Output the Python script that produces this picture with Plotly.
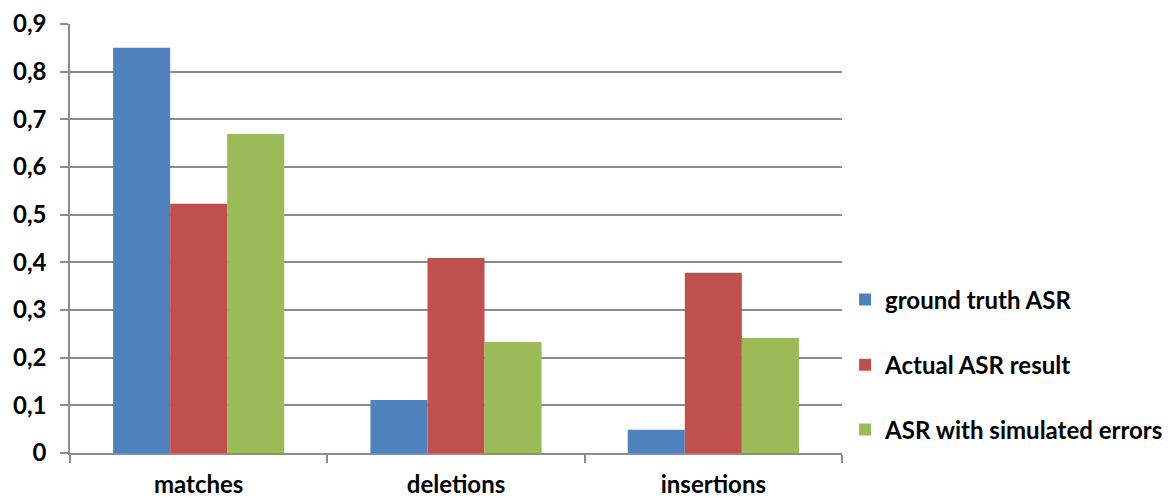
import plotly.graph_objects as go

categories = ["matches", "deletions", "insertions"]
series_names = ["ground truth ASR", "Actual ASR result", "ASR with simulated errors"]
ground_truth = [0.85, 0.111, 0.049]
actual_asr = [0.523, 0.409, 0.378]
simulated = [0.669, 0.233, 0.241]
colors = ["#4F81BD", "#C0504D", "#9BBB59"]
y_ticks = [0, 0.1, 0.2, 0.3, 0.4, 0.5, 0.6, 0.7, 0.8, 0.9]
y_tick_labels = ["0", "0,1", "0,2", "0,3", "0,4", "0,5", "0,6", "0,7", "0,8", "0,9"]

FONT = "Lato"
SIZE = 24
fig = go.Figure()
legend_ids = ["legend", "legend2", "legend3"]
for name, vals, col, lg in zip(series_names, [ground_truth, actual_asr, simulated], colors, legend_ids):
    fig.add_trace(go.Bar(x=categories, y=vals, name=name, marker_color=col,
                         marker_line_width=0, legend=lg))

legend_y = [0.357, 0.205, 0.054]
legend_common = dict(x=1.004, xanchor="left", yanchor="middle",
                     font=dict(family=FONT, size=SIZE, color="black", weight="bold"),
                     bgcolor="rgba(0,0,0,0)")
fig.update_layout(
    width=1175, height=497,
    margin=dict(l=70, r=333, t=24, b=44, autoexpand=False),
    paper_bgcolor="white", plot_bgcolor="white",
    barmode="group", bargap=0.335, bargroupgap=0,
    showlegend=True,
    legend=dict(y=legend_y[0], **legend_common),
    legend2=dict(y=legend_y[1], **legend_common),
    legend3=dict(y=legend_y[2], **legend_common),
    font=dict(family=FONT, size=SIZE, color="black", weight="bold"),
)
fig.update_yaxes(range=[0, 0.9], tickvals=y_ticks, ticktext=y_tick_labels,
                 showgrid=True, gridcolor="#8C8C8C", gridwidth=1.5,
                 showline=True, linecolor="#8C8C8C", linewidth=1.5,
                 ticks="outside", ticklen=8, tickcolor="#8C8C8C", tickwidth=1.5,
                 ticklabelstandoff=9, zeroline=False, automargin=False,
                 tickfont=dict(family=FONT, size=SIZE, color="black", weight="bold"))
fig.update_xaxes(showline=True, linecolor="#8C8C8C", linewidth=1.5,
                 ticks="outside", ticklen=8, tickcolor="#8C8C8C", tickwidth=1.5,
                 tickson="boundaries", showgrid=False, ticklabelstandoff=9,
                 automargin=False,
                 tickfont=dict(family=FONT, size=SIZE, color="black", weight="bold"))

fig.write_html("out.html")
